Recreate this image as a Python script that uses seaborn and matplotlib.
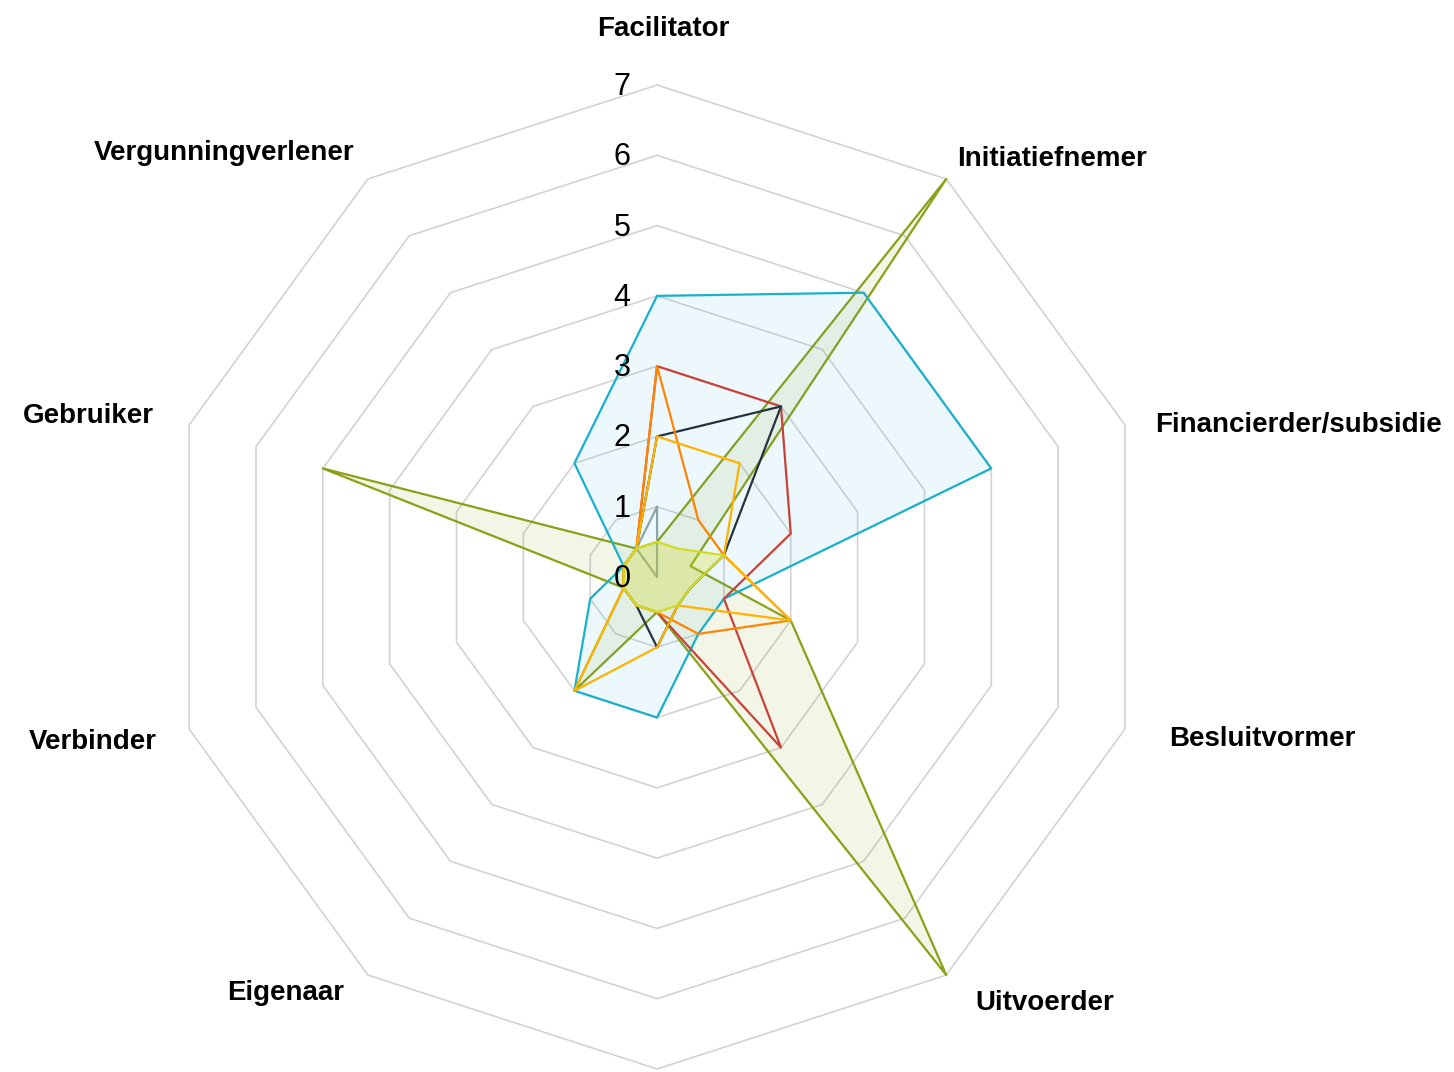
import numpy as np
import matplotlib
matplotlib.use("Agg")
import matplotlib.pyplot as plt
from matplotlib.transforms import offset_copy
import seaborn as sns

# rollen (de onderste valt buiten beeld en krijgt geen label)
categories = ["Facilitator", "Initiatiefnemer", "Financierder/subsidie", "Besluitvormer",
              "Uitvoerder", "Beheerder", "Eigenaar", "Verbinder", "Gebruiker",
              "Vergunningverlener"]
ring_levels = [1, 2, 3, 4, 5, 6, 7]
tick_levels = [0, 1, 2, 3, 4, 5, 6, 7]
tick_labels = ["0", "1", "2", "3", "4", "5", "6", "7"]

olive_vals = [0.5, 7, 0.5, 2, 7, 0.5, 2, 0.5, 5, 0.5]
cyan_vals = [4, 5, 5, 1, 1, 2, 2, 1, 0.5, 2]
red_vals = [3, 3, 2, 1, 3, 0.5, 0.5, 0.5, 0.5, 0.5]
navy_vals = [2, 3, 1, 0.5, 0.5, 1, 0.5, 0.5, 0.5, 0.5]
orange_vals = [3, 1, 1, 2, 1, 0.5, 0.5, 0.5, 0.5, 0.5]
amber_vals = [2, 2, 1, 2, 0.5, 1, 2, 0.5, 0.5, 0.5]
gray_vals = [1, 0, 0, 0, 0, 0, 0, 0, 0, 0.5]
lime_vals = [0.5, 0.5, 1, 0.5, 0.5, 0.5, 0.5, 0.5, 0.5, 0.5]

series = [
    (gray_vals, "#98a2a8", 0),
    (olive_vals, "#8c9f17", 0.10),
    (cyan_vals, "#19b0cc", 0.08),
    (red_vals, "#c8423a", 0),
    (navy_vals, "#24313f", 0),
    (orange_vals, "#ff8405", 0),
    (amber_vals, "#ffb300", 0),
    (lime_vals, "#d2db24", 0.30),
]

# kleine verschuivingen van de labels in pixels (layout)
label_nudge = [(6, 1), (-9, -7), (-2, -10), (12, 0), (9, -1),
               (0, 0), (-4, 9), (0, -3), (-3, -1), (6, -1)]

sns.set_theme(style="white")
plt.rcParams["font.family"] = ["Liberation Sans", "DejaVu Sans"]

fig = plt.figure(figsize=(14.54, 10.72), dpi=100)
ax = fig.add_axes([0.1135, 0.0028, 0.6768, 0.9179], projection="polar")
ax.set_theta_zero_location("N")
ax.set_theta_direction(-1)
ax.set_ylim(0, 7)
ax.set_axis_off()

n = len(categories)
angles = np.linspace(0, 2 * np.pi, n, endpoint=False)
closed = np.append(angles, angles[0])

# raster (tienhoeken)
for lvl in ring_levels:
    ax.plot(closed, [lvl] * (n + 1), color="#d3d3d3", lw=1.2, clip_on=False, zorder=1)

for i, (vals, col, fa) in enumerate(series):
    v = np.append(vals, vals[0])
    if fa > 0:
        ax.fill(closed, v, color=col, alpha=fa, lw=0, zorder=2 + i * 0.1)
    ax.plot(closed, v, color=col, lw=1.6, clip_on=False, zorder=2 + i * 0.1)

# schaalwaarden
off = offset_copy(ax.transData, fig=fig, x=-35, y=-2, units="dots")
for lvl, lab in zip(tick_levels, tick_labels):
    ax.text(0, lvl, lab, transform=off, ha="center", va="center",
            fontsize=22, color="black", zorder=5)

# categorielabels
for ang, cat, (dx, dy) in zip(angles, categories, label_nudge):
    s = np.sin(ang)
    if abs(s) < 1e-6:
        if np.cos(ang) < 0:
            continue  # label onderaan valt buiten de figuur
        r, ha = 7.78, "center"
    else:
        r = 7.48
        ha = "left" if s > 0 else "right"
    tr = offset_copy(ax.transData, fig=fig, x=dx, y=dy, units="dots")
    ax.text(ang, r, cat, transform=tr, ha=ha, va="center", fontsize=20,
            fontweight="bold", color="black", clip_on=False)

fig.savefig("out.png", dpi=100)
